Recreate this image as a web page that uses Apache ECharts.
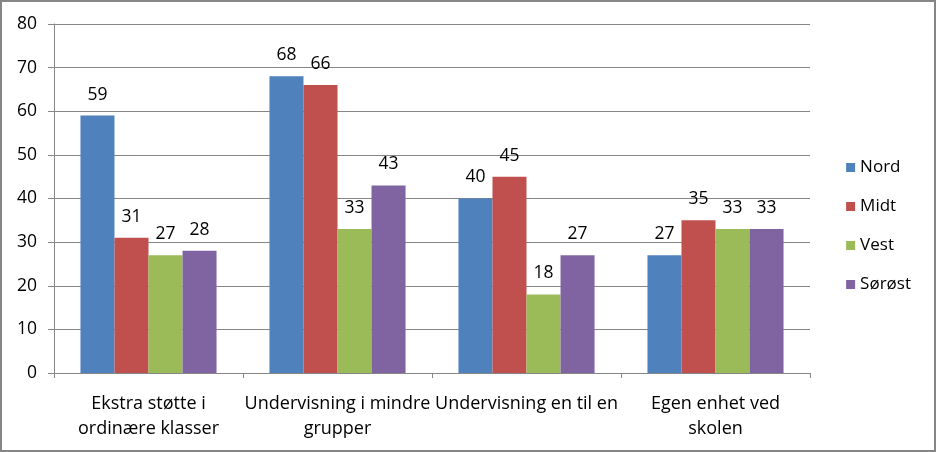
<!DOCTYPE html>
<html><head><meta charset="utf-8">
<script src="https://cdn.jsdelivr.net/npm/echarts@6/dist/echarts.min.js"></script>
<style>html,body{margin:0;padding:0;background:#fff}#c{width:936px;height:452px;box-sizing:border-box;border:2px solid #868686}</style>
</head><body><div id="c"></div>
<script>
const categories = ['Ekstra støtte i\nordinære klasser', 'Undervisning i mindre\ngrupper', 'Undervisning en til en', 'Egen enhet ved\nskolen'];
const nord = [59, 68, 40, 27];
const midt = [31, 66, 45, 35];
const vest = [27, 33, 18, 33];
const sorost = [28, 43, 27, 33];
const seriesNames = ['Nord', 'Midt', 'Vest', 'Sørøst'];
const colors = ['#4F81BD', '#C0504D', '#9BBB59', '#8064A2'];
const yTicks = {min: 0, max: 80, interval: 10};

const font = '"Open Sans", "Liberation Sans", sans-serif';
const chart = echarts.init(document.getElementById('c'));
const data = [nord, midt, vest, sorost];
chart.setOption({
  animation: false,
  textStyle: {fontFamily: font},
  grid: {left: 52, right: 124, top: 22, bottom: 77},
  legend: {
    orient: 'vertical', right: 18, top: 'middle',
    itemWidth: 9, itemHeight: 9, itemGap: 22, icon: 'rect',
    textStyle: {fontSize: 17, color: '#000', fontFamily: font}
  },
  xAxis: {
    type: 'category', data: categories,
    axisLine: {lineStyle: {color: '#868686'}},
    axisTick: {show: true, length: 5, lineStyle: {color: '#868686'}},
    axisLabel: {fontSize: 18, color: '#000', lineHeight: 25, margin: 18, interval: 0, fontFamily: font}
  },
  yAxis: {
    type: 'value', min: yTicks.min, max: yTicks.max, interval: yTicks.interval,
    axisLine: {show: true, lineStyle: {color: '#868686'}},
    axisTick: {show: true, length: 6, lineStyle: {color: '#868686'}},
    splitLine: {lineStyle: {color: '#868686'}},
    axisLabel: {fontSize: 17.5, color: '#000', margin: 17, fontFamily: font}
  },
  series: seriesNames.map((n, i) => ({
    name: n, type: 'bar', data: data[i],
    barGap: '0%', barCategoryGap: '28%',
    itemStyle: {color: colors[i]},
    label: {show: true, position: 'top', distance: 12, fontSize: 17.5, color: '#000', fontFamily: font}
  }))
});
</script></body></html>
